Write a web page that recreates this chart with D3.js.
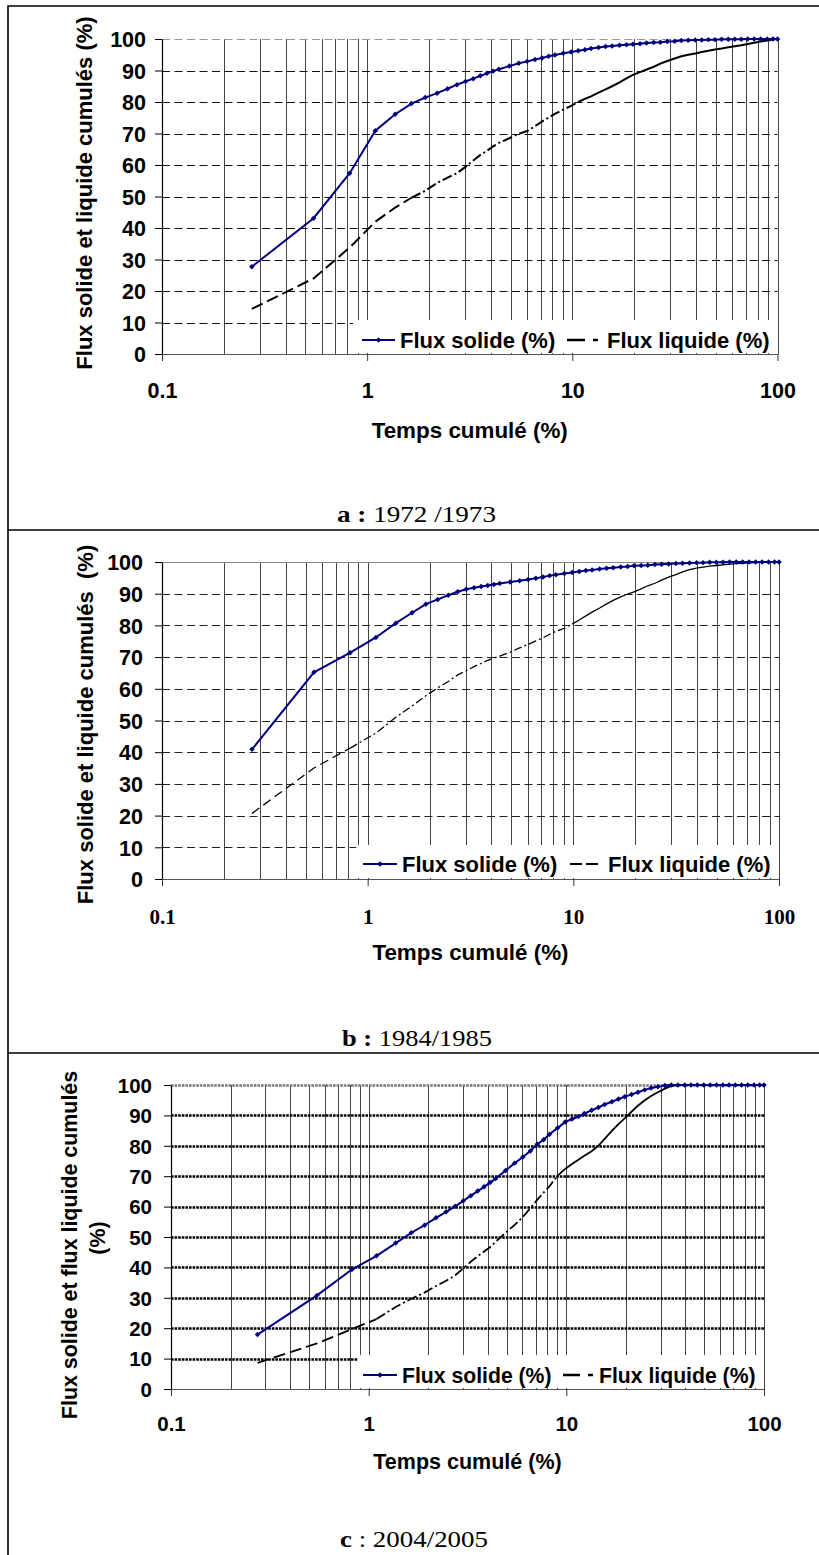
<!DOCTYPE html>
<html><head><meta charset="utf-8">
<script src="https://cdn.jsdelivr.net/npm/d3@7"></script>
<style>
html,body{margin:0;padding:0;background:#fff;}
svg{display:block;}
text{font-family:"Liberation Sans",Arial,sans-serif;}
</style></head><body>
<svg id="chart" width="819" height="1555"></svg>
<script>
// ---------- DATA ----------
const tempsCumule = [0.274,0.548,0.822,1.096,1.37,1.644,1.918,2.192,2.466,2.74,
  3.014,3.288,3.562,3.836,4.11,4.384,4.932,5.48,6.027,6.575,
  7.123,7.671,8.219,9.041,9.863,10.68,11.51,12.33,13.42,14.52,
  15.62,16.99,18.36,19.73,21.37,23.01,24.93,26.85,29.04,31.51,
  33.97,36.71,39.73,42.74,46.03,49.59,53.42,57.53,61.92,66.58,
  71.51,76.99,82.74,89.04,95.07,100];

const fluxSolideA = [27.7,43.1,57.4,70.9,76.1,79.5,81.4,82.8,84.2,85.5,
  86.5,87.4,88.3,89.1,89.8,90.4,91.4,92.3,92.9,93.5,
  94.0,94.5,94.9,95.5,95.9,96.3,96.6,97.0,97.3,97.6,
  97.8,98.0,98.2,98.3,98.5,98.7,98.9,99.0,99.2,99.3,
  99.5,99.6,99.7,99.7,99.8,99.8,99.9,99.9,99.9,99.9,
  100,100,100,100,100,100];
const fluxLiquideA = [14.3,24.0,33.8,42.0,46.5,49.6,51.8,54.3,56.0,57.4,
  59.4,61.4,63.2,64.5,65.9,67.0,68.5,69.9,70.8,72.3,
  73.8,75.1,76.2,77.6,78.8,80.0,81.0,81.8,83.0,84.0,
  85.0,86.2,87.5,88.6,89.5,90.3,91.2,92.2,93.0,93.8,
  94.5,95.0,95.4,95.9,96.3,96.7,97.0,97.4,97.7,98.0,
  98.4,98.8,99.2,99.5,99.8,100];

const fluxSolideB = [40.9,65.2,71.4,76.2,80.7,84.0,86.7,88.2,89.5,90.6,
  91.4,91.9,92.3,92.6,92.9,93.2,93.7,94.1,94.5,94.9,
  95.3,95.7,96.0,96.4,96.7,97.0,97.3,97.5,97.8,98.0,
  98.2,98.4,98.6,98.8,98.9,99.0,99.2,99.3,99.4,99.5,
  99.6,99.7,99.8,99.8,99.9,99.9,99.9,100,100,100,
  100,100,100,100,100,100];
const fluxLiquideB = [20.7,35.0,41.3,46.0,51.0,54.6,57.8,60.3,62.3,64.4,
  65.7,67.0,68.0,69.0,69.7,70.3,71.6,72.9,74.0,75.1,
  76.1,77.2,78.1,79.1,80.4,81.7,83.0,84.2,85.5,86.8,
  87.9,89.0,89.9,90.6,91.5,92.5,93.3,94.3,95.2,96.0,
  96.9,97.6,98.1,98.4,98.7,98.9,99.1,99.3,99.5,99.6,
  99.7,99.8,99.9,99.9,100,100];

const fluxSolideC = [17.9,30.8,39.3,43.8,48.0,51.4,53.9,56.3,58.3,60.1,
  61.9,63.6,65.1,66.5,67.9,69.2,71.9,74.3,76.3,78.3,
  80.5,82.0,83.8,85.9,87.8,88.8,89.6,90.6,91.7,92.6,
  93.6,94.5,95.4,96.1,96.9,97.6,98.4,99.0,99.4,99.8,
  100,100,100,100,100,100,100,100,100,100,
  100,100,100,100,100,100];
const fluxLiquideC = [8.6,15.0,19.7,23.0,27.0,29.7,31.7,33.9,35.6,37.4,
  39.7,41.9,43.7,45.2,46.6,48.4,51.4,54.0,56.6,59.5,
  62.2,64.6,66.7,70.2,72.4,74.0,75.4,76.7,78.2,80.0,
  82.3,84.9,87.1,89.0,91.2,93.2,95.0,96.4,97.6,98.8,
  99.7,100,100,100,100,100,100,100,100,100,
  100,100,100,100,100,100];

const yTickValues = [0,10,20,30,40,50,60,70,80,90,100];
const xTickValues = [0.1,1,10,100];
const xTickLabels = ["0.1","1","10","100"];
const legendLabels = ["Flux solide (%)","Flux liquide (%)"];
const xTitle = "Temps cumulé (%)";
const yTitles = [["Flux solide et liquide cumulés (%)"],
                 ["Flux solide et liquide cumulés  (%)"],
                 ["Flux solide et flux liquide cumulés","(%)"]];
const captionLetters = ["a :","b :","c"];
const captionYears = [" 1972 /1973"," 1984/1985"," : 2004/2005"];

// ---------- LAYOUT / STYLE ----------
const panels = [
 {solid:fluxSolideA, liquid:fluxLiquideA, x0:162, x1:777.5, yT:39, yB:354,
  tickLabEnd:146, tickFont:"bold 21.5px 'Liberation Sans'", xTickFont:"bold 21.5px 'Liberation Sans'", xLabY:390,
  xTitleY:430, xTitleSize:22.4, yTitleX:[84], yTitleY:[193], yTitleSize:22,
  grid:{stroke:"#111", w:1, dash:"8,4.5"}, top:{stroke:"#999", w:1, dash:"8,4.5"},
  leg:{x:353, y:320, w:425, h:33, cy:340, sx0:362, sx1:395, tx1:400, lx0:567, lx1:598, ldash:"18,8,5,30", tx2:607, font:22},
  liqW:2, liqBreaks:[1.644,10.68], dashA:"12,5", dashB:"10,3,2,3",
  cap:{x:337, y:522, w:159}},
 {solid:fluxSolideB, liquid:fluxLiquideB, x0:162, x1:779, yT:562, yB:879,
  tickLabEnd:143, tickFont:"bold 21.5px 'Liberation Sans'", xTickFont:"bold 21px 'Liberation Serif'", xLabY:916,
  xTitleY:952, xTitleSize:22.4, yTitleX:[85], yTitleY:[724.5], yTitleSize:22,
  grid:{stroke:"#222", w:1, dash:"8,4.5"}, top:{stroke:"#888", w:1, dash:null},
  leg:{x:356, y:845, w:423, h:33, cy:864, sx0:363, sx1:397, tx1:402, lx0:570, lx1:598, ldash:"12,4,12,30", tx2:608, font:22},
  liqW:1.3, liqBreaks:[0.822,9.863], dashA:"9,5", dashB:"8,3,2,3",
  cap:{x:342, y:1046, w:150}},
 {solid:fluxSolideC, liquid:fluxLiquideC, x0:171, x1:764, yT:1085, yB:1389,
  tickLabEnd:152, tickFont:"bold 20.5px 'Liberation Sans'", xTickFont:"bold 20.5px 'Liberation Sans'", xLabY:1424,
  xTitleY:1461, xTitleSize:21.5, yTitleX:[69,97.5], yTitleY:[1245,1238], yTitleSize:21.4,
  grid:{stroke:"#000", w:2.6, dash:"2.6,1"}, top:{stroke:"#777", w:2.6, dash:"2.6,1"},
  leg:{x:358, y:1355, w:406, h:33, cy:1375, sx0:363, sx1:397, tx1:402, lx0:563, lx1:593, ldash:"17,8,5,30", tx2:599, font:21.2},
  liqW:1.8, liqBreaks:[1.096,9.863], dashA:"12,5", dashB:"10,3,2,3",
  cap:{x:340, y:1547, w:148}}
];

const NAVY = "#000080";
const svg = d3.select("#chart");

// frame
svg.append("path")
  .attr("d","M8,1555 V6 H819 M8,530 H819 M8,1053 H819")
  .attr("fill","none").attr("stroke","#000").attr("stroke-width",1.6);

function diamond(sel, cx, cy){
  sel.append("path").attr("d", d3.symbol(d3.symbolSquare, 15)())
    .attr("transform",`translate(${cx},${cy}) rotate(45)`).attr("fill",NAVY);
}

panels.forEach((p, i) => {
  const g = svg.append("g");
  const x = d3.scaleLog().domain([0.1,100]).range([p.x0,p.x1]);
  const y = d3.scaleLinear().domain([0,100]).range([p.yB,p.yT]);

  // vertical grid lines (log minor + major)
  const vt = x.ticks().filter(v => v > 0.1000001);
  g.append("g").selectAll("line").data(vt).join("line")
    .attr("x1", d => Math.round(x(d))+0.5).attr("x2", d => Math.round(x(d))+0.5)
    .attr("y1", p.yT).attr("y2", p.yB)
    .attr("stroke","#444").attr("stroke-width",1);

  // horizontal grid lines
  g.append("g").selectAll("line").data(yTickValues.filter(v => v > 0)).join("line")
    .attr("x1", p.x0).attr("x2", p.x1)
    .attr("y1", d => Math.round(y(d))+0.5).attr("y2", d => Math.round(y(d))+0.5)
    .attr("stroke", d => d === 100 ? p.top.stroke : p.grid.stroke)
    .attr("stroke-width", d => d === 100 ? p.top.w : p.grid.w)
    .attr("stroke-dasharray", d => d === 100 ? p.top.dash : p.grid.dash);

  // legend background
  g.append("rect").attr("x",p.leg.x).attr("y",p.leg.y).attr("width",p.leg.w).attr("height",p.leg.h).attr("fill","#fff");

  // axes
  const ya = g.append("g").attr("transform",`translate(${p.x0},0)`)
    .call(d3.axisLeft(y).tickValues(yTickValues).tickSize(7).tickSizeOuter(0).tickPadding(p.x0 - p.tickLabEnd - 7));
  ya.select(".domain").attr("stroke","#000").attr("stroke-width",1.2);
  ya.selectAll(".tick line").attr("stroke","#000");
  ya.selectAll(".tick text").style("font",p.tickFont).attr("fill","#000").attr("dy","0.36em");

  const xa = g.append("g").attr("transform",`translate(0,${p.yB})`)
    .call(d3.axisBottom(x).tickValues(xTickValues).tickFormat((d,k) => xTickLabels[k]).tickSize(7).tickSizeOuter(0));
  xa.select(".domain").attr("stroke","#555").attr("stroke-width",1.2);
  xa.selectAll(".tick line").attr("stroke","#333");
  xa.selectAll(".tick text").style("font",p.xTickFont).attr("fill","#000")
    .attr("y", p.xLabY - p.yB).attr("dy","0.36em");

  // series
  const ptsS = d3.zip(tempsCumule, p.solid);
  const ptsL = d3.zip(tempsCumule, p.liquid);
  const line = d3.line().x(d => x(d[0])).y(d => y(d[1]));
  const [b1, b2] = p.liqBreaks;
  const seg1 = ptsL.filter(d => d[0] <= b1);
  const seg2 = ptsL.filter(d => d[0] >= b1 && d[0] <= b2);
  const seg3 = ptsL.filter(d => d[0] >= b2);
  [[seg1,p.dashA],[seg2,p.dashB],[seg3,null]].forEach(([s,dash]) => {
    g.append("path").attr("d", line(s)).attr("fill","none").attr("stroke","#000")
      .attr("stroke-width",p.liqW).attr("stroke-dasharray",dash);
  });
  g.append("path").attr("d", line(ptsS)).attr("fill","none").attr("stroke",NAVY).attr("stroke-width",2);
  g.append("g").selectAll("path").data(ptsS).join("path")
    .attr("d", d3.symbol(d3.symbolSquare, 15)())
    .attr("transform", d => `translate(${x(d[0])},${y(d[1])}) rotate(45)`)
    .attr("fill", NAVY);

  // legend
  const L = p.leg;
  g.append("line").attr("x1",L.sx0).attr("x2",L.sx1).attr("y1",L.cy).attr("y2",L.cy).attr("stroke",NAVY).attr("stroke-width",2);
  diamond(g, (L.sx0+L.sx1)/2, L.cy);
  g.append("text").attr("x",L.tx1).attr("y",L.cy).attr("dy","0.36em")
    .style("font",`bold ${L.font}px 'Liberation Sans'`).text(legendLabels[0]);
  g.append("line").attr("x1",L.lx0).attr("x2",L.lx1).attr("y1",L.cy).attr("y2",L.cy).attr("stroke","#000")
    .attr("stroke-width",p.liqW+0.6).attr("stroke-dasharray",L.ldash);
  g.append("text").attr("x",L.tx2).attr("y",L.cy).attr("dy","0.36em")
    .style("font",`bold ${L.font}px 'Liberation Sans'`).text(legendLabels[1]);

  // axis titles
  g.append("text").attr("x",(p.x0+p.x1)/2).attr("y",p.xTitleY).attr("dy","0.36em")
    .attr("text-anchor","middle").style("font",`bold ${p.xTitleSize}px 'Liberation Sans'`).text(xTitle);
  yTitles[i].forEach((t,k) => {
    g.append("text").attr("transform",`translate(${p.yTitleX[k]},${p.yTitleY[k]}) rotate(-90)`)
      .attr("dy","0.36em").attr("text-anchor","middle").style("white-space","pre")
      .style("font",`bold ${p.yTitleSize}px 'Liberation Sans'`).text(t);
  });

  // caption
  const c = g.append("text").attr("x",0).attr("y",0)
    .style("font-family","'Liberation Serif','Times New Roman',serif").style("font-size","24px").style("white-space","pre");
  c.append("tspan").attr("font-weight","bold").text(captionLetters[i]);
  c.append("tspan").text(captionYears[i]);
  const w = c.node().getComputedTextLength();
  c.attr("transform",`translate(${p.cap.x},${p.cap.y}) scale(${p.cap.w / w},1)`);
});
</script>
</body></html>
